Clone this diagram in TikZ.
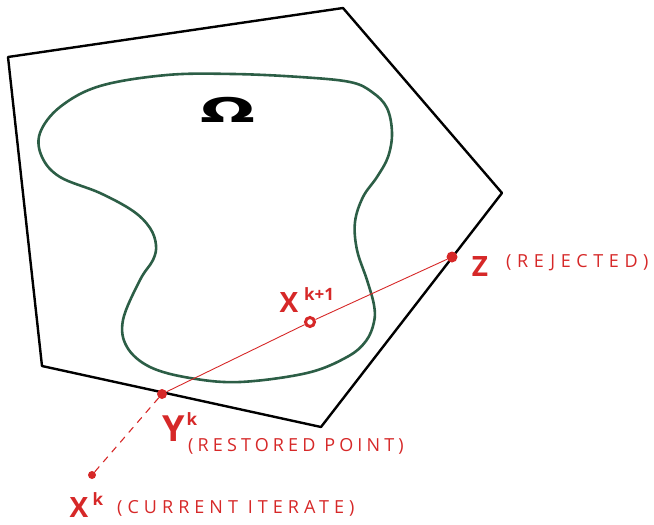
\documentclass[tikz,border=0pt]{standalone}
\usepackage{fontspec}
\newfontfamily\handA[LetterSpace=28]{Open Sans}
\newfontfamily\handB[LetterSpace=23]{Open Sans}
\newfontfamily\handC[LetterSpace=31]{Open Sans}
\newfontfamily\handbig{Open Sans}
\newfontfamily\omegafont{DejaVu Sans}
\definecolor{pen}{RGB}{214,40,40}
\definecolor{blob}{RGB}{44,94,70}
\tikzset{
  poly/.style={line width=2.4pt, line join=round, black},
  blobline/.style={line width=2.6pt, blob},
  ray/.style={line width=0.9pt, pen},
  dashray/.style={line width=1.1pt, pen, dash pattern=on 7pt off 6pt},
  dotfill/.style={circle, fill=pen, inner sep=0pt},
  lbl/.style={inner sep=0pt, text=pen},
}
\begin{document}
\begin{tikzpicture}[x=1pt,y=-1pt]
\useasboundingbox (0,0) rectangle (654,525);
% polygon
\coordinate (p1) at (8,57);
\coordinate (p2) at (343,8);
\coordinate (p3) at (502,193);
\coordinate (p4) at (321,427);
\coordinate (p5) at (42,366);
\draw[poly] (p1) -- (p2) -- (p3) -- (p4) -- (p5) -- cycle;
% Omega region
\draw[blobline] plot[smooth cycle, tension=0.6] coordinates {
 (233,74) (300,77) (350,82) (372,92) (387,108) (392,133) (388,157) (377,177)
 (363,197) (355,222) (357,250) (367,280) (374,305) (374,322) (366,341) (347,357)
 (307,373) (240,382) (190,378) (150,367) (127,347) (123,320) (140,280) (153,260)
 (156,245) (150,228) (133,211) (100,193) (60,177) (42,157) (40,133) (60,107)
 (100,86) (167,75)};
\node[inner sep=0pt, font=\omegafont\bfseries\fontsize{34}{34}\selectfont, xscale=1.9] (omega) at (228,110) {Ω};
% points
\node[dotfill, minimum size=8pt] (xk) at (92,475) {};
\node[dotfill, minimum size=10pt] (yk) at (162,394) {};
\node[circle, draw=pen, line width=3pt, fill=white, minimum size=9pt, inner sep=0pt] (xk1) at (310,322) {};
\node[dotfill, minimum size=11pt] (z) at (452,257) {};
% connectors
\draw[dashray] (xk) -- (yk);
\draw[ray] (yk) -- (xk1);
\draw[ray] (xk1) -- (z);
% labels
\node[lbl, font=\handbig\bfseries\fontsize{28}{28}\selectfont] (xklbl) at (79,508) {X};
\node[lbl, font=\handbig\bfseries\fontsize{17}{17}\selectfont] (xksup) at (98,499) {k};
\node[lbl, anchor=west, font=\handA\fontsize{18}{18}\selectfont] (curr) at (117,508) {(CURRENT ITERATE)};
\node[lbl, font=\handbig\bfseries\fontsize{36}{36}\selectfont] (yklbl) at (174,429) {Y};
\node[lbl, font=\handbig\bfseries\fontsize{17}{17}\selectfont] (yksup) at (192,419) {k};
\node[lbl, anchor=west, font=\handB\fontsize{18}{18}\selectfont] (rest) at (188,446) {(RESTORED POINT)};
\node[lbl, font=\handbig\bfseries\fontsize{28}{28}\selectfont] (xk1lbl) at (289,303) {X};
\node[lbl, font=\handbig\bfseries\fontsize{17}{17}\selectfont] (xk1sup) at (319,294) {k+1};
\node[lbl, font=\handbig\bfseries\fontsize{28}{28}\selectfont] (zlbl) at (480,267) {Z};
\node[lbl, anchor=west, font=\handC\fontsize{18}{18}\selectfont] (rej) at (506,263) {(REJECTED)};
\end{tikzpicture}
\end{document}
